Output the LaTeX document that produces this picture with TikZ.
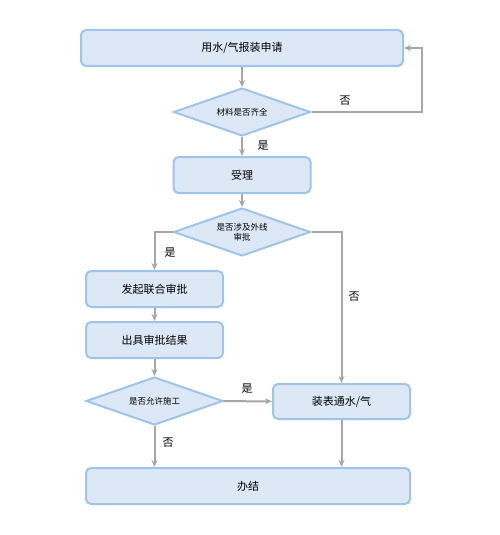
\documentclass[tikz,border=0pt]{standalone}
\usepackage{fontspec}
\setmainfont{Noto Sans CJK SC}
\usetikzlibrary{shapes.geometric,arrows.meta}
\definecolor{boxfill}{HTML}{DDE8F6}
\definecolor{boxline}{HTML}{9FC4E8}
\definecolor{flowline}{HTML}{A6A6A6}
\tikzset{
  stepbox/.style={draw=boxline, fill=boxfill, line width=2pt, rounded corners=5pt,
    minimum height=36pt, font=\fontsize{11}{12}\selectfont, inner sep=0pt},
  choice/.style={draw=boxline, fill=boxfill, line width=2pt, shape=diamond, aspect=2.85,
    minimum width=137pt, minimum height=48pt, inner sep=0pt, align=center,
    font=\fontsize{8.5}{10}\selectfont},
  flow/.style={draw=flowline, line width=2pt, -{Stealth[length=7pt,width=6pt]}},
  tag/.style={font=\fontsize{11}{12}\selectfont}
}
\begin{document}
\begin{tikzpicture}[x=1pt, y=-1pt]
    \useasboundingbox (0, 0) rectangle (500, 535);

    \node[stepbox, minimum width=322pt] (apply) at (242, 48) {用水/气报装申请};
    \node[choice] (check) at (242, 112) {材料是否齐全};
    \node[stepbox, minimum width=137pt] (accept) at (242, 175) {受理};
    \node[choice] (extline) at (242, 232) {是否涉及外线\\审批};
    \node[stepbox, minimum width=137pt] (joint) at (154.5, 289) {发起联合审批};
    \node[stepbox, minimum width=137pt] (result) at (154.5, 340) {出具审批结果};
    \node[choice] (permit) at (154.5, 401) {是否允许施工};
    \node[stepbox, minimum width=137pt, minimum height=35pt] (install) at (341.5, 401.5) {装表通水/气};
    \node[stepbox, minimum width=324pt] (finish) at (248, 486) {办结};

    \coordinate (back) at (422, 112);

    \node[tag] (no1) at (345, 101) {否};
    \node[tag] (yes1) at (263, 146) {是};
    \node[tag] (yes2) at (170, 253) {是};
    \node[tag] (no2) at (354, 297) {否};
    \node[tag] (yes3) at (247, 389) {是};
    \node[tag] (no3) at (168, 443) {否};

    \draw[flow] (apply) -- (check);
    \draw[flow] (check.east) -- (back) |- (apply.east);
    \draw[flow] (check) -- (accept);
    \draw[flow] (accept) -- (extline);
    \draw[flow] (extline.west) -| (joint.north);
    \draw[flow] (extline.east) -| (install.north);
    \draw[flow] (joint) -- (result);
    \draw[flow] (result) -- (permit);
    \draw[flow] (permit) -- (install);
    \draw[flow] (permit.south) -- (permit.south |- finish.north);
    \draw[flow] (install.south) -- (install.south |- finish.north);
\end{tikzpicture}
\end{document}
